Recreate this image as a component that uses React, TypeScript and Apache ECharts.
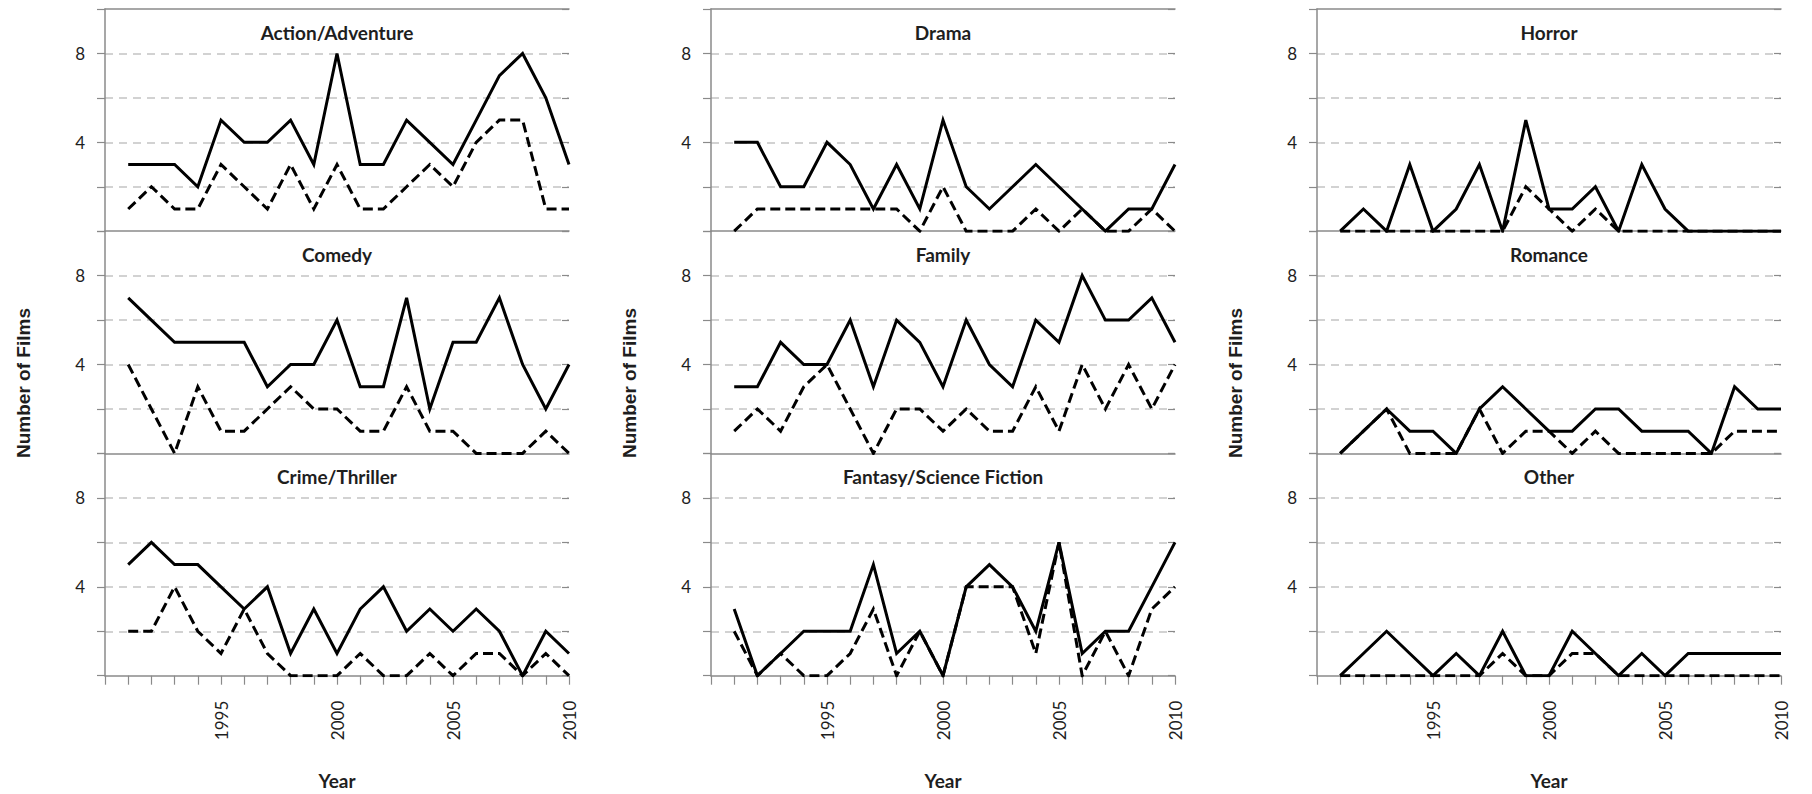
import React, { useEffect, useRef } from "react";
import * as echarts from "echarts";

const years = [1991, 1992, 1993, 1994, 1995, 1996, 1997, 1998, 1999, 2000, 2001, 2002, 2003, 2004, 2005, 2006, 2007, 2008, 2009, 2010];

const genres = [
  "Action/Adventure", "Comedy", "Crime/Thriller",
  "Drama", "Family", "Fantasy/Science Fiction",
  "Horror", "Romance", "Other",
];

const actionSolid = [3, 3, 3, 2, 5, 4, 4, 5, 3, 8, 3, 3, 5, 4, 3, 5, 7, 8, 6, 3];
const actionDashed = [1, 2, 1, 1, 3, 2, 1, 3, 1, 3, 1, 1, 2, 3, 2, 4, 5, 5, 1, 1];
const comedySolid = [7, 6, 5, 5, 5, 5, 3, 4, 4, 6, 3, 3, 7, 2, 5, 5, 7, 4, 2, 4];
const comedyDashed = [4, 2, 0, 3, 1, 1, 2, 3, 2, 2, 1, 1, 3, 1, 1, 0, 0, 0, 1, 0];
const crimeSolid = [5, 6, 5, 5, 4, 3, 4, 1, 3, 1, 3, 4, 2, 3, 2, 3, 2, 0, 2, 1];
const crimeDashed = [2, 2, 4, 2, 1, 3, 1, 0, 0, 0, 1, 0, 0, 1, 0, 1, 1, 0, 1, 0];
const dramaSolid = [4, 4, 2, 2, 4, 3, 1, 3, 1, 5, 2, 1, 2, 3, 2, 1, 0, 1, 1, 3];
const dramaDashed = [0, 1, 1, 1, 1, 1, 1, 1, 0, 2, 0, 0, 0, 1, 0, 1, 0, 0, 1, 0];
const familySolid = [3, 3, 5, 4, 4, 6, 3, 6, 5, 3, 6, 4, 3, 6, 5, 8, 6, 6, 7, 5];
const familyDashed = [1, 2, 1, 3, 4, 2, 0, 2, 2, 1, 2, 1, 1, 3, 1, 4, 2, 4, 2, 4];
const fantasySolid = [3, 0, 1, 2, 2, 2, 5, 1, 2, 0, 4, 5, 4, 2, 6, 1, 2, 2, 4, 6];
const fantasyDashed = [2, 0, 1, 0, 0, 1, 3, 0, 2, 0, 4, 4, 4, 1, 6, 0, 2, 0, 3, 4];
const horrorSolid = [0, 1, 0, 3, 0, 1, 3, 0, 5, 1, 1, 2, 0, 3, 1, 0, 0, 0, 0, 0];
const horrorDashed = [0, 0, 0, 0, 0, 0, 0, 0, 2, 1, 0, 1, 0, 0, 0, 0, 0, 0, 0, 0];
const romanceSolid = [0, 1, 2, 1, 1, 0, 2, 3, 2, 1, 1, 2, 2, 1, 1, 1, 0, 3, 2, 2];
const romanceDashed = [0, 1, 2, 0, 0, 0, 2, 0, 1, 1, 0, 1, 0, 0, 0, 0, 0, 1, 1, 1];
const otherSolid = [0, 1, 2, 1, 0, 1, 0, 2, 0, 0, 2, 1, 0, 1, 0, 1, 1, 1, 1, 1];
const otherDashed = [0, 0, 0, 0, 0, 0, 0, 1, 0, 0, 1, 1, 0, 0, 0, 0, 0, 0, 0, 0];

const solidSeries = [actionSolid, comedySolid, crimeSolid, dramaSolid, familySolid, fantasySolid, horrorSolid, romanceSolid, otherSolid];
const dashedSeries = [actionDashed, comedyDashed, crimeDashed, dramaDashed, familyDashed, fantasyDashed, horrorDashed, romanceDashed, otherDashed];

const yTickLabels = [4, 8];
const xTickLabels = [1995, 2000, 2005, 2010];
const yAxisTitle = "Number of Films";
const xAxisTitle = "Year";

const W = 1812;
const H = 794;
const colLeft = [105, 711, 1317];
const plotW = 464;
const rowTop = [9, 231.2, 453.5];
const plotH = 222.2;

const AXIS = "#8a8a8a";
const TEXT = "#1e1e1e";
const FONT = "Lato, 'Open Sans', sans-serif";

function buildOption() {
  const grid: any[] = [];
  const xAxis: any[] = [];
  const yAxis: any[] = [];
  const series: any[] = [];
  const graphic: any[] = [];

  for (let c = 0; c < 3; c++) {
    for (let r = 0; r < 3; r++) {
      const g = c * 3 + r;
      grid.push({ left: colLeft[c], top: rowTop[r], width: plotW, height: plotH, containLabel: false });
      const bottom = r === 2;
      const xi = xAxis.length;
      xAxis.push({
        gridIndex: g,
        type: "value",
        min: 1990,
        max: 2010,
        interval: 1,
        axisLine: { show: true, onZero: false, lineStyle: { color: AXIS, width: 1.5 } },
        axisTick: { show: bottom, length: 9, lineStyle: { color: AXIS, width: 1.2 } },
        axisLabel: {
          show: bottom,
          rotate: 90,
          margin: 25,
          color: TEXT,
          fontFamily: FONT,
          fontSize: 17,
          formatter: (v: number) => (xTickLabels.indexOf(v) >= 0 ? String(v) : ""),
        },
        splitLine: { show: false },
      });
      if (r === 0) {
        xAxis.push({
          gridIndex: g,
          type: "value",
          position: "top",
          min: 1990,
          max: 2010,
          axisLine: { show: true, onZero: false, lineStyle: { color: AXIS, width: 1.5 } },
          axisTick: { show: false },
          axisLabel: { show: false },
          splitLine: { show: false },
        });
      }
      const yi = yAxis.length;
      yAxis.push({
        gridIndex: g,
        type: "value",
        min: 0,
        max: 10,
        interval: 2,
        axisLine: { show: true, onZero: false, lineStyle: { color: AXIS, width: 1.5 } },
        axisTick: { show: true, length: 8, lineStyle: { color: AXIS, width: 1.2 } },
        axisLabel: {
          margin: 20,
          color: TEXT,
          fontFamily: FONT,
          fontSize: 17,
          formatter: (v: number) => (yTickLabels.indexOf(v) >= 0 ? String(v) : ""),
        },
        splitLine: {
          show: true,
          showMinLine: false,
          showMaxLine: false,
          lineStyle: { color: "#c4c4c4", width: 1.5, type: [8, 6] },
        },
      });
      yAxis.push({
        gridIndex: g,
        type: "value",
        min: 0,
        max: 10,
        interval: 2,
        axisLine: { show: false },
        axisTick: { show: true, inside: true, length: 7, lineStyle: { color: AXIS, width: 1.2 } },
        axisLabel: { show: false },
        splitLine: { show: false },
      });

      series.push({
        name: genres[g] + " (dashed)",
        type: "line",
        xAxisIndex: xi,
        yAxisIndex: yi,
        symbol: "none",
        data: years.map((y, i) => [y, dashedSeries[g][i]]),
        lineStyle: { color: "#000", width: 3, type: [10, 5], cap: "butt", join: "miter" },
        z: 3,
      });
      series.push({
        name: genres[g],
        type: "line",
        xAxisIndex: xi,
        yAxisIndex: yi,
        symbol: "none",
        data: years.map((y, i) => [y, solidSeries[g][i]]),
        lineStyle: { color: "#000", width: 3, cap: "butt", join: "miter" },
        z: 4,
      });

      graphic.push({
        type: "text",
        x: colLeft[c] + plotW / 2,
        y: rowTop[r] + 23,
        style: {
          text: genres[g],
          fill: TEXT,
          fontFamily: FONT,
          fontWeight: "bold",
          fontSize: 19,
          align: "center",
          verticalAlign: "middle",
        },
      });
    }
    graphic.push({
      type: "text",
      x: colLeft[c] - 82,
      y: 383,
      rotation: Math.PI / 2,
      style: {
        text: yAxisTitle,
        fill: TEXT,
        fontFamily: "'Liberation Sans', Arial, sans-serif",
        fontWeight: "bold",
        fontSize: 19,
        align: "center",
        verticalAlign: "middle",
      },
    });
    graphic.push({
      type: "text",
      x: colLeft[c] + plotW / 2,
      y: 780,
      style: {
        text: xAxisTitle,
        fill: TEXT,
        fontFamily: FONT,
        fontWeight: "bold",
        fontSize: 19,
        align: "center",
        verticalAlign: "middle",
      },
    });
  }

  return {
    animation: false,
    backgroundColor: "#ffffff",
    grid,
    xAxis,
    yAxis,
    series,
    graphic,
  };
}

export default function App() {
  const ref = useRef<HTMLDivElement>(null);
  useEffect(() => {
    if (!ref.current) return;
    const chart = echarts.init(ref.current, null, { renderer: "svg" });
    chart.setOption(buildOption() as any);
    return () => {
      chart.dispose();
    };
  }, []);
  return (
    <div
      ref={ref}
      style={{ position: "fixed", left: 0, top: 0, width: W, height: H, background: "#fff" }}
    />
  );
}
